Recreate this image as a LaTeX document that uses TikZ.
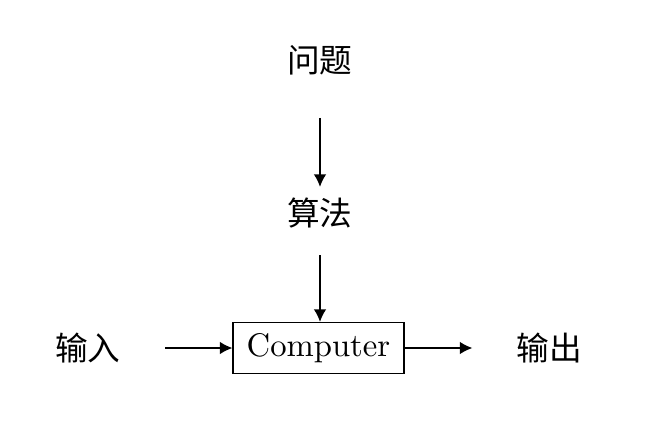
\documentclass[tikz,border=0pt]{standalone}
\usepackage{fontspec}
\newfontfamily\cjk{Noto Sans CJK SC}
\usetikzlibrary{arrows.meta}
\begin{document}
\begin{tikzpicture}[x=0.306pt,y=-0.306pt,
  lbl/.style={font=\cjk, inner sep=0pt},
  box/.style={draw, line width=0.4pt, minimum width=52.3pt, minimum height=15.6pt, inner sep=0pt},
  arr/.style={-{Latex[length=3.8pt,width=3.8pt]}, line width=0.4pt}]
\useasboundingbox (0,0) rectangle (650,422);
\node[lbl] (q) at (320,60) {问题};
\node[lbl] (s) at (320,213) {算法};
\node[box] (c) at (318.5,348) {Computer};
\node[lbl] (i) at (88,348) {输入};
\node[lbl] (o) at (549.5,348) {输出};
\draw[arr, shorten <=17.7pt, shorten >=8pt] (q.center) -- (s.center);
\draw[arr, shorten <=12.9pt] (s.center) -- (s.center |- c.north);
\draw[arr, shorten <=23.6pt] (i.center) -- (c.west);
\draw[arr, shorten >=23.6pt] (c.east) -- (o.center);
\end{tikzpicture}
\end{document}
